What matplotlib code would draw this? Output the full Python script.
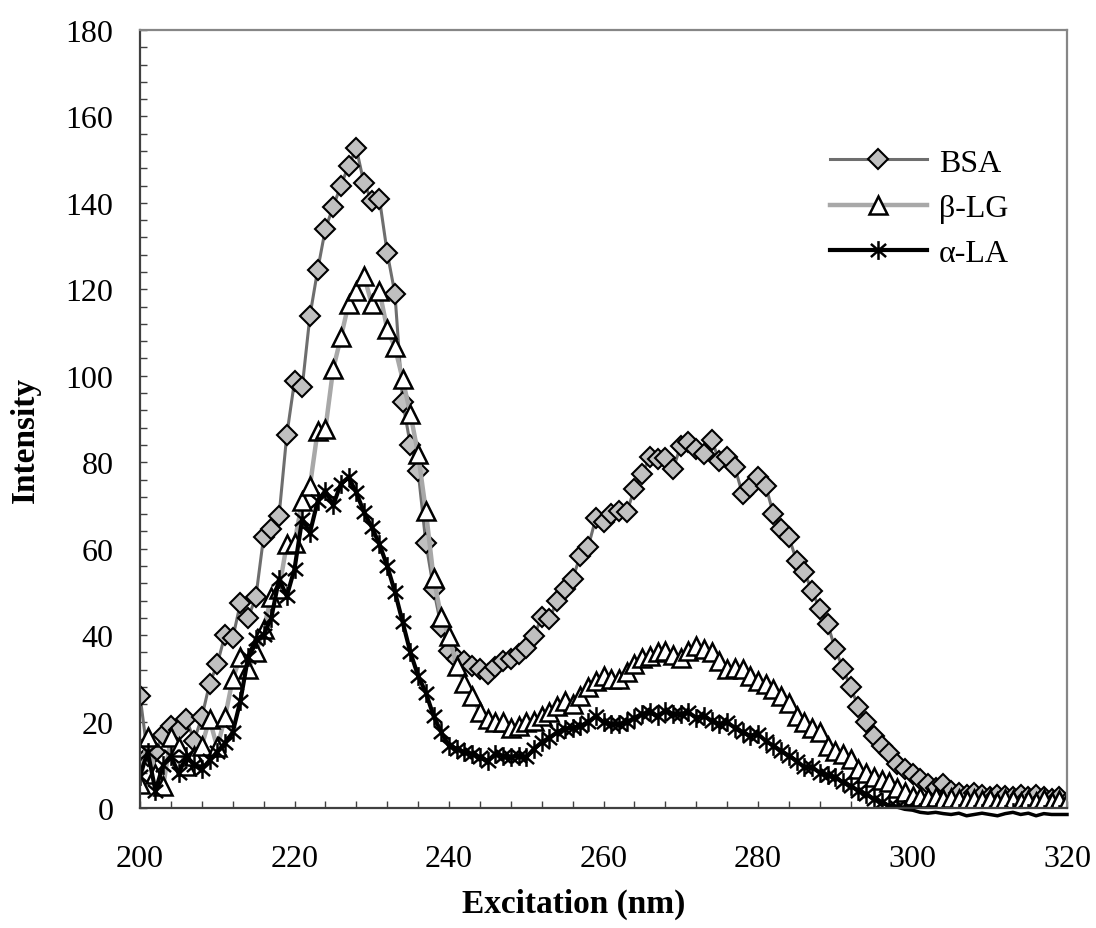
import numpy as np
import matplotlib
matplotlib.use('Agg')
import matplotlib.pyplot as plt
from matplotlib.path import Path
from matplotlib.ticker import MultipleLocator

plt.rcParams['font.family'] = ['Liberation Serif', 'DejaVu Serif']

# excitation wavelength, 1 nm steps
wavelength = np.arange(200, 321)

bsa = [26, 12, 13, 17, 19, 18, 20.6, 15.6, 21, 28.7,
       33.3, 40, 39.3, 47.4, 44, 48.8, 62.7, 64.6, 67.6, 86.3,
       98.7, 97.4, 113.9, 124.5, 134, 139.1, 144, 148.6, 152.6, 144.5,
       140.5, 140.9, 128.5, 119, 94, 84, 78, 61.4, 50.7, 41.8,
       36.4, 34.5, 34, 32.9, 32.2, 31, 32.7, 34, 34.5, 35.6,
       37.1, 39.8, 44.1, 43.8, 47.9, 50.7, 53, 58.4, 60.3, 67,
       66.2, 68, 68.8, 68.4, 73.8, 77.3, 81.1, 80.7, 80.9, 78.4,
       83.8, 84.6, 83, 81.9, 85.2, 80.2, 81.1, 78.8, 72.6, 74.2,
       76.5, 74.5, 68, 64.6, 62.6, 57.2, 54.5, 50.2, 46, 42.6,
       36.8, 32.2, 27.9, 23.3, 19.8, 16.7, 14.4, 12.8, 10.2, 9,
       7.9, 6.7, 5.6, 4.7, 5.6, 4, 3.5, 3, 3.5, 3,
       2.5, 3, 2.8, 2.5, 3, 2.5, 3, 2.5, 2, 2.5,
       1.5]

blg = [5.5, 16.4, 7.9, 5, 16.4, 14, 9.8, 12, 14.4, 20.6,
       14, 21, 29.8, 35, 32.2, 36, 41.5, 48.8, 50.7, 61,
       61.4, 71, 74.5, 87.3, 87.7, 101.5, 108.9, 116.6, 119.7, 123.1,
       116.6, 119.6, 110.8, 106.6, 99.2, 91.2, 81.9, 68.8, 53.3, 44.1,
       39.9, 32.9, 29, 26, 22.1, 20.6, 20, 19.8, 18.6, 19,
       19.8, 20.2, 21.3, 22.1, 23.6, 24.8, 24.1, 26, 27.9, 29.4,
       30.6, 29.8, 29.8, 31.4, 33.3, 34.8, 35.2, 36, 36.4, 35.5,
       34.8, 36.4, 37.5, 36.8, 36, 34, 32.2, 32.5, 32.2, 30.6,
       29.4, 28.7, 27.5, 26, 24.4, 21.3, 19.8, 18.6, 17.5, 14.4,
       13.2, 12.5, 11.3, 9, 8.2, 7.1, 6.5, 5.9, 4.7, 3.6,
       2.8, 2.5, 2.2, 2.5, 2, 2.2, 2, 1.8, 2, 1.8,
       2, 1.5, 2, 1.8, 1.5, 1.8, 1.5, 2, 1.5, 1.8,
       1.5]

ala = [7.5, 13, 4, 10, 12, 8, 12, 10, 9, 11,
       13, 15, 17.5, 24.8, 35, 39, 40, 44, 53, 49,
       55.3, 66.9, 63.7, 71, 73.4, 70, 75, 76.5, 73, 68.4,
       65, 61, 56, 50, 43, 36, 30.6, 26.7, 21.3, 17.5,
       14.4, 13.7, 12.9, 12.5, 11.7, 10.9, 12.5, 12, 11.7, 12.1,
       11.7, 13.7, 15.2, 16.3, 17.5, 18.3, 18.6, 19, 19.8, 21.3,
       19.8, 19.4, 19.4, 19.8, 20.9, 21.7, 22.1, 21.3, 22.5, 21.7,
       21.7, 22.1, 20.9, 21.3, 20.2, 19.4, 19.8, 18.6, 17.5, 16.7,
       17.1, 15.5, 14.4, 13.2, 12.1, 10.9, 9.4, 9.4, 8.2, 7.6,
       7.1, 5.9, 5.1, 4, 3.2, 2.1, 1.3, 0.5, 0.2, -0.3,
       -0.5, -1, -1.2, -1, -1.3, -1.5, -1.2, -1.8, -1.5, -1.2,
       -1.5, -1.8, -1.3, -1, -1.5, -1.2, -1.8, -1.3, -1.5, -1.5,
       -1.5]

labels = ['BSA', '\u03b2-LG', '\u03b1-LA']

# asterisk marker like the Excel one: vertical bar + X
ast = Path([(0, -1), (0, 1), (-0.81, -0.7), (0.81, 0.7), (-0.81, 0.7), (0.81, -0.7)],
           [Path.MOVETO, Path.LINETO, Path.MOVETO, Path.LINETO, Path.MOVETO, Path.LINETO])

fig = plt.figure(figsize=(10.96, 9.29), dpi=100)
ax = fig.add_axes([140 / 1096, 1 - 809 / 929, 927 / 1096, 778 / 929])

ax.plot(wavelength, bsa, color='#6e6e6e', lw=2.2, marker='D', ms=10,
        mfc='#c0c0c0', mec='black', mew=1.5, label=labels[0])
ax.plot(wavelength, blg, color='#a8a8a8', lw=3.2, marker='^', ms=12.5,
        mfc='white', mec='black', mew=1.8, label=labels[1])
ax.plot(wavelength, ala, color='black', lw=3, marker=ast, ms=13.5,
        mfc='none', mec='black', mew=1.8, label=labels[2])
# the tail below zero is drawn past the axis line in the original
tail = wavelength >= 296
ax.plot(wavelength[tail], np.array(ala)[tail], color='black', lw=2.5, clip_on=False)

ax.set_xlim(200, 320)
ax.set_ylim(0, 180)
ax.xaxis.set_major_locator(MultipleLocator(20))
ax.xaxis.set_minor_locator(MultipleLocator(4))
ax.yaxis.set_major_locator(MultipleLocator(20))
ax.yaxis.set_minor_locator(MultipleLocator(4))
ax.tick_params(which='both', direction='in', length=5, width=1, color='#404040',
               labelsize=23)
ax.tick_params(axis='x', pad=26)
ax.tick_params(axis='y', pad=19)

for side in ['left', 'bottom']:
    ax.spines[side].set_color('#404040')
    ax.spines[side].set_linewidth(1.6)
for side in ['top', 'right']:
    ax.spines[side].set_color('#868686')
    ax.spines[side].set_linewidth(1.6)

ax.set_xlabel('Excitation (nm)', fontsize=24, fontweight='bold')
ax.xaxis.set_label_coords(0.468, -0.103)
ax.set_ylabel('Intensity', fontsize=24, fontweight='bold', va='center')
ax.yaxis.set_label_coords(-0.124, 0.474)

ax.legend(loc='upper left', bbox_to_anchor=(0.744, 0.848), frameon=False,
          fontsize=23, handlelength=3.05, handletextpad=0.37, labelspacing=0.5,
          borderpad=0, borderaxespad=0)

fig.savefig('out.png', dpi=100)
